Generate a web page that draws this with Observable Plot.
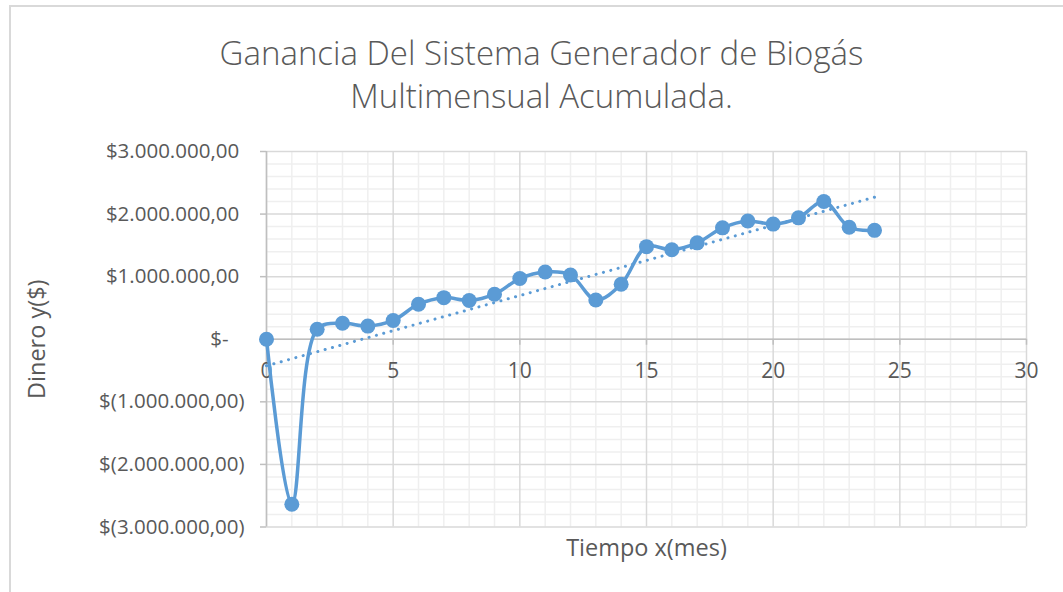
<!DOCTYPE html>
<html>
<head>
<meta charset="utf-8">
<script src="https://cdn.jsdelivr.net/npm/d3@7"></script>
<script src="https://cdn.jsdelivr.net/npm/@observablehq/plot@0.6"></script>
<style>
  html, body { margin: 0; padding: 0; background: #fff; }
  #wrap { position: relative; width: 1063px; height: 592px; overflow: hidden; }
  #border { position: absolute; left: 9px; top: 5px; width: 1100px; height: 700px;
            border-left: 2px solid #d9d9d9; border-top: 2px solid #d9d9d9; }
  #title { position: absolute; left: 10px; width: 1063px; top: 31px; text-align: center;
           font-family: "Open Sans", sans-serif; font-weight: 300; font-size: 33px;
           line-height: 43px; color: #595959; }
  #chart { position: absolute; left: 0; top: 0; }
</style>
</head>
<body>
<div id="wrap">
  <div id="border"></div>
  <div id="chart"></div>
  <div id="title">Ganancia Del Sistema Generador de Biogás<br>Multimensual Acumulada.</div>
</div>
<script>
// Data
const meses = [0,1,2,3,4,5,6,7,8,9,10,11,12,13,14,15,16,17,18,19,20,21,22,23,24];
const ganancia = [0, -2636000, 160000, 255000, 210000, 300000, 560000, 665000, 620000, 720000,
  970000, 1075000, 1027000, 628000, 878000, 1480000, 1430000, 1540000, 1780000, 1890000,
  1840000, 1940000, 2200000, 1790000, 1740000];

// Axis ticks
const xMajor = [0, 5, 10, 15, 20, 25, 30];
const xMinor = [1,2,3,4,6,7,8,9,11,12,13,14,16,17,18,19,21,22,23,24,26,27,28,29];
const yMajor = [-3000000, -2000000, -1000000, 0, 1000000, 2000000, 3000000];
const yMinor = [-2800000,-2600000,-2400000,-2200000,-1800000,-1600000,-1400000,-1200000,
  -800000,-600000,-400000,-200000,200000,400000,600000,800000,1200000,1400000,1600000,1800000,
  2200000,2400000,2600000,2800000];

const titleX = "Tiempo x(mes)";
const titleY = "Dinero y($)";

const data = meses.map((m, i) => ({mes: m, valor: ganancia[i]}));

const loc = d3.formatLocale({decimal: ",", thousands: ".", grouping: [3], currency: ["$", ""]});
const num = loc.format(",.2f");
const fmt = v => v > 0 ? "$" + num(v) + "\u00a0" : v < 0 ? "$(" + num(-v) + ")" : "$-\u00a0\u00a0\u00a0";

const blue = "#5b9bd5";
const txt = "#595959";

const chart = Plot.plot({
  width: 1063,
  height: 592,
  marginTop: 151,
  marginBottom: 65.5,
  marginLeft: 266,
  marginRight: 37,
  x: {domain: [0, 30], axis: null},
  y: {domain: [-3000000, 3000000], axis: null},
  style: {fontFamily: "'Open Sans', sans-serif", background: "transparent"},
  marks: [
    Plot.ruleX(xMinor, {stroke: "#efefef", strokeWidth: 1.5}),
    Plot.ruleY(yMinor, {stroke: "#efefef", strokeWidth: 1.5}),
    Plot.ruleX(xMajor, {stroke: "#d9d9d9", strokeWidth: 1.5}),
    Plot.ruleY(yMajor, {stroke: "#d9d9d9", strokeWidth: 1.5}),
    Plot.ruleX([0], {stroke: "#bfbfbf", strokeWidth: 1.5}),
    Plot.ruleY([0], {stroke: "#bfbfbf", strokeWidth: 1.5}),
    Plot.ruleX(xMajor, {y1: 0, y2: 0, insetBottom: -6, stroke: "#bfbfbf", strokeWidth: 1.5}),
    Plot.ruleY(yMajor, {x1: 0, x2: 0, insetLeft: -6, stroke: "#bfbfbf", strokeWidth: 1.5}),
    Plot.text(xMajor, {x: d => d, y: 0, dy: 32, text: d => String(d), fontSize: 21, fill: txt}),
    Plot.text(yMajor, {x: 0, y: d => d, dx: -22, text: fmt, textAnchor: "end", fontSize: 20.5, fill: txt, letterSpacing: 1.4}),
    Plot.text([titleX], {frameAnchor: "bottom", dy: 29, text: d => d, fontSize: 23.5, fill: txt}),
    Plot.text([titleY], {frameAnchor: "left", dx: -229, rotate: -90, textAnchor: "middle", text: d => d, fontSize: 23.5, fill: txt}),
    Plot.linearRegressionY(data, {x: "mes", y: "valor", ci: 0, stroke: blue, strokeWidth: 3, strokeDasharray: "0.1 7.5", strokeLinecap: "round"}),
    Plot.line(data, {x: "mes", y: "valor", curve: "catmull-rom", stroke: blue, strokeWidth: 3.5}),
    Plot.dot(data, {x: "mes", y: "valor", r: 7.5, fill: blue, stroke: "none"})
  ]
});
document.getElementById("chart").appendChild(chart);
</script>
</body>
</html>
